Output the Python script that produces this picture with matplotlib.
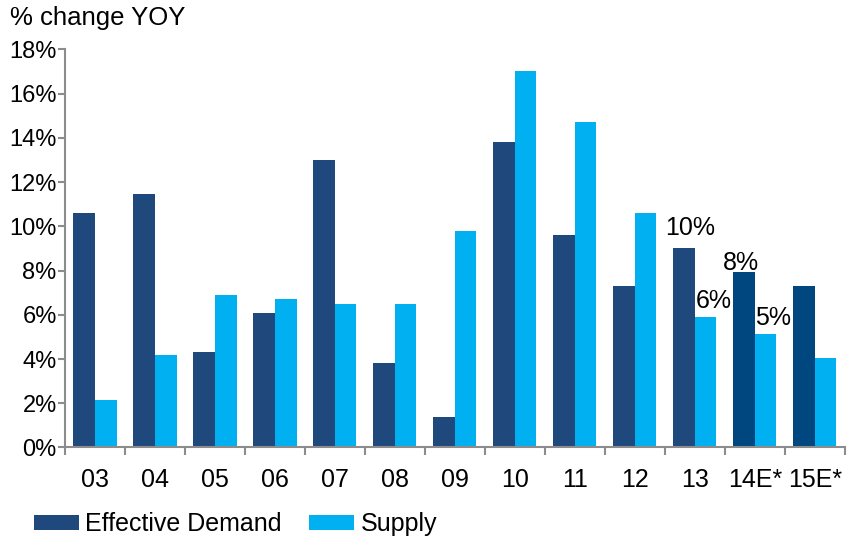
import numpy as np
import matplotlib.pyplot as plt
from matplotlib.ticker import FixedLocator, FuncFormatter

plt.rcParams['font.family'] = ['Liberation Sans', 'DejaVu Sans']

years = ["03", "04", "05", "06", "07", "08", "09", "10", "11", "12", "13", "14E*", "15E*"]
demand = [10.6, 11.45, 4.3, 6.1, 13.0, 3.8, 1.4, 13.8, 9.6, 7.3, 9.0, 7.95, 7.3]
supply = [2.15, 4.2, 6.9, 6.7, 6.5, 6.5, 9.8, 17.0, 14.7, 10.6, 5.9, 5.15, 4.05]

# labels shown on the last bars: (text, group index, side, value height)
annotations = [("10%", 10, -0.07, 9.9), ("6%", 10, 0.32, 6.6),
               ("8%", 11, -0.23, 8.35), ("5%", 11, 0.3, 5.85)]

demand_color = "#1F497D"
forecast_color = "#00477F"
supply_color = "#00B0F0"
axis_color = "#8C8C8C"

fig = plt.figure(figsize=(8.55, 5.4), dpi=100)
ax = fig.add_axes([0.076, 0.1713, 0.912, 0.7374])

x = np.arange(len(years)) + 0.5
w = 0.36
d_colors = [forecast_color if "E" in y else demand_color for y in years]
ax.bar(x - w / 2, demand, w, color=d_colors, label="Effective Demand")
ax.bar(x + w / 2, supply, w, color=supply_color, label="Supply")

for txt, i, dx, yv in annotations:
    ax.text(i + 0.5 + dx, yv, txt, ha="center", va="center", fontsize=18)

ax.set_xlim(0, len(years))
ax.set_ylim(0, 18)
ax.set_yticks(np.arange(0, 19, 2))
ax.yaxis.set_major_formatter(FuncFormatter(lambda v, p: f"{v:.0f}%"))

ax.xaxis.set_major_locator(FixedLocator(np.arange(len(years) + 1)))
ax.xaxis.set_minor_locator(FixedLocator(x))
ax.set_xticklabels([], minor=False)
ax.set_xticklabels(years, minor=True)
ax.tick_params(axis="x", which="major", length=6, width=1.5, color=axis_color)
ax.tick_params(axis="x", which="minor", length=0, pad=15, labelsize=18)
ax.tick_params(axis="y", length=5, width=1.5, color=axis_color, labelsize=17, pad=1)

for s in ["top", "right"]:
    ax.spines[s].set_visible(False)
for s in ["left", "bottom"]:
    ax.spines[s].set_color(axis_color)
    ax.spines[s].set_linewidth(1.5)

fig.text(0.012, 0.966, "% change YOY", fontsize=18.5, va="center", ha="left")

fig.legend(loc="center left", bbox_to_anchor=(0.028, 0.029), ncol=2, frameon=False,
           fontsize=18, handlelength=1.8, handleheight=0.55, handletextpad=0.25,
           columnspacing=1.1, borderaxespad=0)

fig.savefig("out.png", dpi=100)
